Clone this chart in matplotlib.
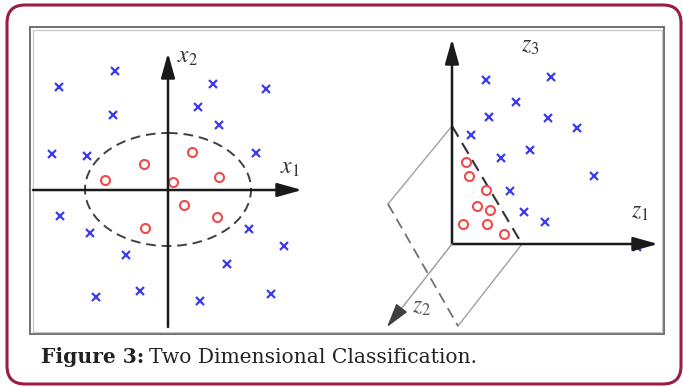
import matplotlib
matplotlib.use("Agg")
import matplotlib.pyplot as plt
from matplotlib.patches import Ellipse, FancyBboxPatch, Rectangle

plt.rcParams['mathtext.fontset'] = 'stix'

# ---- data (pixel coordinates) ----
left_cross_x = [59, 115, 113, 52, 87, 213, 266, 198, 219, 256, 60, 90, 126, 96, 140, 200, 227, 249, 284, 271]
left_cross_y = [87, 71, 115, 154, 156, 84, 89, 107, 125, 153, 216, 233, 255, 297, 291, 301, 264, 229, 246, 294]
left_circle_x = [144, 192, 105, 173, 219, 184, 217, 145]
left_circle_y = [164, 152, 180, 182, 177, 205, 217, 228]

right_cross_x = [486, 551, 516, 489, 548, 577, 471, 530, 501, 594, 510, 524, 545, 637]
right_cross_y = [80, 77, 102, 117, 118, 128, 135, 150, 158, 176, 191, 212, 222, 247]
right_circle_x = [466, 469, 486, 477, 490, 463, 487, 504]
right_circle_y = [162, 176, 190, 206, 210, 224, 224, 234]

# axes / geometry of the diagram
left_x_end = (302, 190)
left_y_end = (168, 53)
left_y_start = (168, 327)
left_x_start = (33, 190)
ellipse_center = (168, 189.5)
ellipse_size = (166, 113)

right_origin = (452, 244)
right_z3_end = (452, 39)
right_z1_end = (658, 244)
right_z2_end = (387, 327)
plane_top = (452, 126)
plane_right = (522, 244)
plane_bottom = (458, 326)
plane_left = (388, 204)

CROSS = '#3b3bf2'
CIRCLE = '#f04a4a'
AXIS = '#1a1a1a'

fig = plt.figure(figsize=(6.83, 3.87), dpi=100)
ax = fig.add_axes([0, 0, 1, 1])
ax.set_xlim(0, 683)
ax.set_ylim(387, 0)
ax.axis('off')

# outer rounded frame
frame = FancyBboxPatch((7, 5), 674, 379, boxstyle='round,pad=0,rounding_size=18',
                       fill=False, ec='#9b1c4a', lw=2.2)
ax.add_patch(frame)

# image box (double line)
ax.add_patch(Rectangle((30, 27), 634, 307, fill=False, ec='#707070', lw=1.4))
ax.add_patch(Rectangle((33, 29.5), 628.5, 302, fill=False, ec='#c8c8c8', lw=0.9))

arrow_style = dict(arrowstyle='-|>,head_length=1.5,head_width=0.42', lw=1.8,
                   color=AXIS, shrinkA=0, shrinkB=0)

# ---- left panel ----
ax.annotate('', xy=left_x_end, xytext=left_x_start, arrowprops=arrow_style)
ax.annotate('', xy=left_y_end, xytext=left_y_start, arrowprops=arrow_style)
ax.add_patch(Ellipse(ellipse_center, ellipse_size[0], ellipse_size[1], fill=False,
                     ec='#404040', lw=1.4, ls=(0, (5, 3))))
ax.plot(left_cross_x, left_cross_y, ls='none', marker='x', ms=5.5, mew=1.6, color=CROSS)
ax.plot(left_circle_x, left_circle_y, ls='none', marker='o', ms=6.5, mew=1.5,
        mec=CIRCLE, mfc='white')
ax.text(177, 63, r'$x_2$', fontsize=17, color='#333', va='baseline')
ax.text(280, 174, r'$x_1$', fontsize=17, color='#333', va='baseline')

# ---- right panel ----
# plane
ax.plot([plane_top[0], plane_left[0]], [plane_top[1], plane_left[1]], color='#a0a0a0', lw=1)
ax.plot([plane_right[0], plane_bottom[0]], [plane_right[1], plane_bottom[1]], color='#a0a0a0', lw=1)
ax.plot([plane_left[0], plane_bottom[0]], [plane_left[1], plane_bottom[1]], color='#707070',
        lw=1.3, ls=(0, (6, 3.5)))
ax.plot([plane_top[0], plane_right[0]], [plane_top[1], plane_right[1]], color='#303030',
        lw=1.5, ls=(0, (6, 3.5)))
# axes
ax.annotate('', xy=right_z3_end, xytext=right_origin, arrowprops=arrow_style)
ax.annotate('', xy=right_z1_end, xytext=right_origin, arrowprops=arrow_style)
ax.annotate('', xy=right_z2_end, xytext=right_origin,
            arrowprops=dict(arrowstyle='-|>,head_length=1.5,head_width=0.42', lw=1,
                            color='#9a9a9a', shrinkA=0, shrinkB=0))
ax.annotate('', xy=right_z2_end, xytext=(397, 314),
            arrowprops=dict(arrowstyle='-|>,head_length=1.5,head_width=0.42', lw=1,
                            color='#404040', shrinkA=0, shrinkB=0))
ax.plot(right_cross_x, right_cross_y, ls='none', marker='x', ms=5.5, mew=1.6, color=CROSS)
ax.plot(right_circle_x, right_circle_y, ls='none', marker='o', ms=6.5, mew=1.5,
        mec=CIRCLE, mfc='white')
ax.text(521, 52, r'$z_3$', fontsize=17, color='#333', va='baseline')
ax.text(631, 218, r'$z_1$', fontsize=17, color='#333', va='baseline')
ax.text(412, 313, r'$z_2$', fontsize=17, color='#555', va='baseline')

# ---- caption ----
fig.canvas.draw()
renderer = fig.canvas.get_renderer()
t1 = ax.text(41, 363, 'Figure 3:', fontsize=14.6, fontweight='bold', family='DejaVu Serif',
             color='#222', va='baseline')
bb = t1.get_window_extent(renderer)
inv = ax.transData.inverted()
x_end = inv.transform((bb.x1, bb.y0))[0]
ax.text(x_end + 5, 363, 'Two Dimensional Classification.', fontsize=14.6,
        family='DejaVu Serif', color='#222', va='baseline')

fig.savefig('out.png', dpi=100)
